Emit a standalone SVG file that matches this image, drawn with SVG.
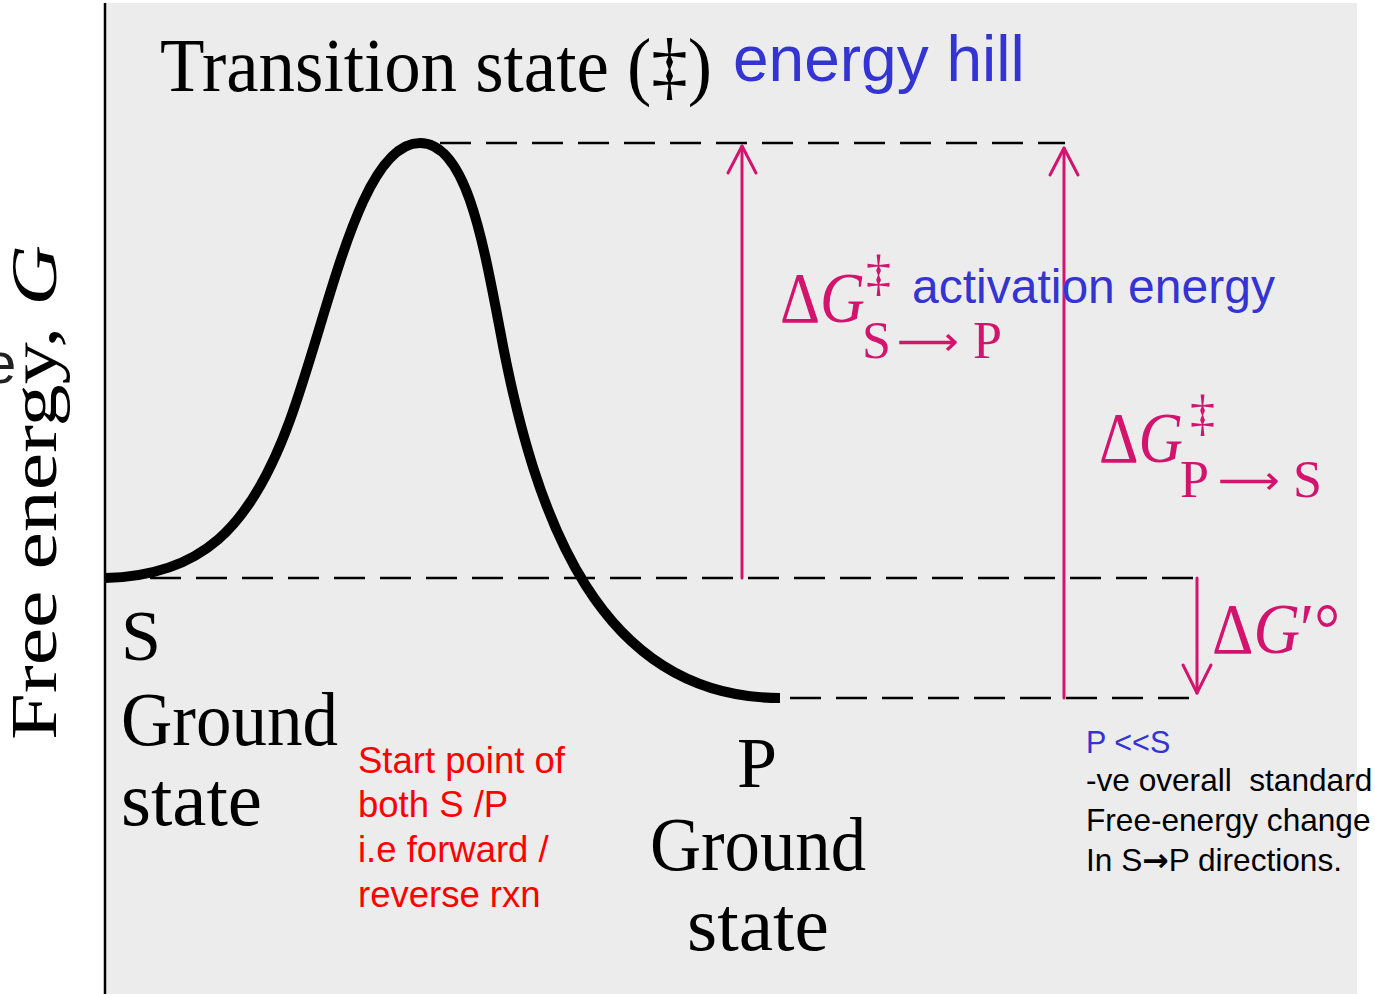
<svg xmlns="http://www.w3.org/2000/svg" width="1375" height="994" viewBox="0 0 1375 994">
<style>
.serif{font-family:"Liberation Serif","DejaVu Serif",serif;fill:#000}
.math{font-family:"Liberation Serif","DejaVu Serif",serif;fill:#d2146f}
.marrow{font-family:"DejaVu Sans",sans-serif;fill:#d2146f}
.sans{font-family:"Liberation Sans",Arial,sans-serif}
.blue{fill:#3434d2}
.red{fill:#ff0000}
.dash{stroke:#000;stroke-width:2.5;stroke-dasharray:31 15;fill:none}
.arr{stroke:#d2146f;stroke-width:3;fill:none;stroke-linecap:round;stroke-linejoin:round}
</style>
<rect x="0" y="0" width="1375" height="994" fill="#ffffff"/>
<rect x="105" y="3" width="1252" height="991" fill="#ececec"/>
<g id="axis">
<line x1="105" y1="3" x2="105" y2="994" stroke="#000" stroke-width="2.5"/>
<text class="sans" x="-16" y="383" font-size="58" fill="#222">e</text>
<text class="serif" transform="translate(56,740) rotate(-90)" x="0" y="0" font-size="66" textLength="495" lengthAdjust="spacingAndGlyphs">Free energy, <tspan font-style="italic">G</tspan></text>
</g>
<g id="title">
<text class="serif" x="160" y="91" font-size="76" textLength="552" lengthAdjust="spacingAndGlyphs">Transition state (‡)</text>
<text class="sans blue" x="733" y="81" font-size="64">energy hill</text>
</g>
<g id="connectors">
<line class="dash" x1="440" y1="143" x2="1065" y2="143"/>
<line class="dash" x1="150" y1="578" x2="1197" y2="578"/>
<line class="dash" x1="790" y1="698" x2="1197" y2="698"/>
<line class="arr" x1="742" y1="578" x2="742" y2="146"/>
<polyline class="arr" points="728,173 742,146 756,173"/>
<line class="arr" x1="1064" y1="698" x2="1064" y2="148"/>
<polyline class="arr" points="1050,175 1064,148 1078,175"/>
<line class="arr" x1="1197" y1="578" x2="1197" y2="693"/>
<polyline class="arr" points="1183,665 1197,693 1211,665"/>
</g>
<g id="curve">
<path d="M105,578 C200,576 250,530 290,420 C330,310 360,143 420,143 C465,143 482,235 500,330 C535,520 600,698 780,698" fill="none" stroke="#000" stroke-width="10"/>
</g>
<g id="label-sp">
<text class="math" x="780" y="322" font-size="72" textLength="85" lengthAdjust="spacingAndGlyphs">Δ<tspan font-style="italic">G</tspan></text>
<text class="math" x="866" y="290" font-size="50">‡</text>
<text class="math" x="862" y="358" font-size="52">S</text>
<text class="marrow" x="897" y="355" font-size="40" textLength="62" lengthAdjust="spacingAndGlyphs">⟶</text>
<text class="math" x="973" y="358" font-size="52">P</text>
<text class="sans blue" x="912" y="303" font-size="48">activation energy</text>
</g>
<g id="label-ps">
<text class="math" x="1099" y="462" font-size="72" textLength="84" lengthAdjust="spacingAndGlyphs">Δ<tspan font-style="italic">G</tspan></text>
<text class="math" x="1190" y="430" font-size="50">‡</text>
<text class="math" x="1180" y="497" font-size="52">P</text>
<text class="marrow" x="1218" y="494" font-size="40" textLength="62" lengthAdjust="spacingAndGlyphs">⟶</text>
<text class="math" x="1293" y="497" font-size="52">S</text>
</g>
<g id="label-dg">
<text class="math" x="1212" y="653" font-size="72" textLength="128" lengthAdjust="spacingAndGlyphs">Δ<tspan font-style="italic">G</tspan>′°</text>
</g>
<g id="node-s">
<text class="serif" x="121" y="660" font-size="72">S</text>
<text class="serif" x="121" y="745" font-size="76" textLength="217" lengthAdjust="spacingAndGlyphs">Ground</text>
<text class="serif" x="121" y="825" font-size="76" textLength="141" lengthAdjust="spacingAndGlyphs">state</text>
</g>
<g id="node-p">
<text class="serif" x="737" y="787" font-size="72">P</text>
<text class="serif" x="650" y="870" font-size="76" textLength="216" lengthAdjust="spacingAndGlyphs">Ground</text>
<text class="serif" x="687" y="950" font-size="76" textLength="142" lengthAdjust="spacingAndGlyphs">state</text>
</g>
<g id="note-start">
<text class="sans red" font-size="36.5"><tspan x="358" y="773">Start point of</tspan><tspan x="358" y="817">both S /P</tspan><tspan x="358" y="862">i.e forward /</tspan><tspan x="358" y="907">reverse rxn</tspan></text>
</g>
<g id="note-right">
<text class="sans blue" x="1086" y="753" font-size="30.5">P &lt;&lt;S</text>
<text class="sans" font-size="31.6" fill="#000"><tspan x="1086" y="791" xml:space="preserve">-ve overall  standard</tspan><tspan x="1086" y="831">Free-energy change</tspan><tspan x="1086" y="871">In S<tspan font-family="DejaVu Sans" font-weight="bold">→</tspan>P directions.</tspan></text>
</g>
</svg>
